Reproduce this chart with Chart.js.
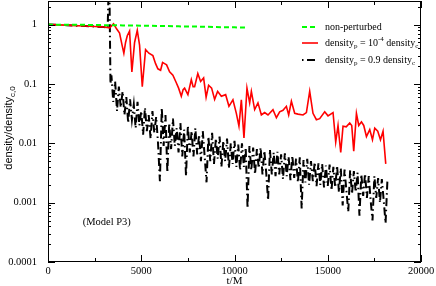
<!DOCTYPE html>
<html>
<head>
<meta charset="utf-8">
<script src="https://cdn.jsdelivr.net/npm/chart.js@4.4.0/dist/chart.umd.min.js"></script>
<style>
  html, body { margin: 0; padding: 0; background: #fff; }
</style>
</head>
<body>
<canvas id="densityChart" width="436" height="286"></canvas>
<script>
// ---- data ----
var xTickValues = [0, 5000, 10000, 15000, 20000];
var xTickLabels = ['0', '5000', '10000', '15000', '20000'];
var yTickValues = [0.0001, 0.001, 0.01, 0.1, 1];
var yTickLabels = ['0.0001', '0.001', '0.01', '0.1', '1'];

// non-perturbed
var greenT = [0, 1000, 2000, 3000, 4000, 5000, 6000, 7000, 8000, 9000, 10000, 10600];
var greenV = [1.0, 0.995, 0.99, 0.98, 0.97, 0.96, 0.95, 0.935, 0.925, 0.91, 0.9, 0.89];

// density_p = 1e-4 density_c
var redT = [0, 500, 1000, 1500, 2000, 2500, 3000, 3300, 3515, 3675, 3837, 3971, 4067, 4159, 4250, 4373,
  4497, 4642, 4787, 4910, 5055, 5232, 5409, 5624, 5768, 5892, 6037, 6144, 6251, 6359, 6520, 6697,
  6879, 7003, 7148, 7244, 7325, 7502, 7684, 7781, 7861, 8033, 8183, 8344, 8478, 8612, 8773, 8934,
  9095, 9294, 9525, 9702, 9916, 10099, 10238, 10367, 10507, 10668, 10813, 10904, 11081, 11258, 11440, 11617,
  11795, 12063, 12246, 12422, 12600, 12782, 12905, 13050, 13227, 13404, 13673, 13855, 14032, 14209, 14391, 14568,
  14837, 15014, 15283, 15427, 15551, 15696, 15819, 15991, 16178, 16286, 16393, 16538, 16662, 16806, 16930, 17075,
  17252, 17397, 17520, 17681, 17826, 17965, 18110];
var redV = [1.0, 0.99, 0.98, 0.96, 0.95, 0.93, 0.91, 0.88, 1.03, 0.85, 0.72, 0.45, 0.33, 0.5, 0.65, 0.78,
  0.16, 0.5, 0.8, 0.45, 0.09, 0.38, 0.33, 0.3, 0.22, 0.18, 0.17, 0.23, 0.22, 0.21, 0.16, 0.14,
  0.105, 0.085, 0.062, 0.08, 0.085, 0.066, 0.118, 0.09, 0.09, 0.15, 0.11, 0.126, 0.06, 0.095, 0.085, 0.055,
  0.075, 0.062, 0.066, 0.042, 0.054, 0.032, 0.0195, 0.054, 0.0123, 0.085, 0.048, 0.075, 0.037, 0.048, 0.03, 0.033,
  0.03, 0.037, 0.027, 0.034, 0.036, 0.042, 0.03, 0.051, 0.032, 0.031, 0.03, 0.033, 0.075, 0.032, 0.025, 0.026,
  0.034, 0.029, 0.033, 0.0105, 0.02, 0.007, 0.0195, 0.019, 0.022, 0.02, 0.0074, 0.032, 0.02, 0.023, 0.02, 0.013,
  0.017, 0.0115, 0.018, 0.016, 0.0115, 0.016, 0.0045];

// density_p = 0.9 density_c
var blackT = [0, 500, 1000, 1500, 2000, 2500, 3000, 3200, 3280, 3350,
  3400, 3500, 3600, 3700, 3800, 3900, 4000, 4100, 4200, 4300, 4400, 4500, 4600, 4700, 4800, 4900,
  5000, 5100, 5200, 5300, 5400, 5500, 5600, 5700, 5800, 5900, 6000, 6100, 6200, 6300, 6400, 6500,
  6600, 6700, 6800, 6900, 7000, 7100, 7200, 7300, 7400, 7500, 7600, 7700, 7800, 7900, 8000, 8100,
  8200, 8300, 8400, 8500, 8600, 8700, 8800, 8900, 9000, 9100, 9200, 9300, 9400, 9500, 9600, 9700,
  9800, 9900, 10000, 10100, 10200, 10300, 10400, 10500, 10600, 10700, 10800, 10900, 11000, 11100, 11200, 11300,
  11400, 11500, 11600, 11700, 11800, 11900, 12000, 12100, 12200, 12300, 12400, 12500, 12600, 12700, 12800, 12900,
  13000, 13100, 13200, 13300, 13400, 13500, 13600, 13700, 13800, 13900, 14000, 14100, 14200, 14300, 14400, 14500,
  14600, 14700, 14800, 14900, 15000, 15100, 15200, 15300, 15400, 15500, 15600, 15700, 15800, 15900, 16000, 16100,
  16200, 16300, 16400, 16500, 16600, 16700, 16800, 16900, 17000, 17100, 17200, 17300, 17400, 17500, 17600, 17700,
  17800, 17900, 18000, 18100, 18200];
var blackV = [1.0, 0.99, 0.98, 0.96, 0.95, 0.93, 0.91, 0.88, 10, 0.1,
  0.14, 0.05, 0.11, 0.035, 0.09, 0.04, 0.075, 0.03, 0.06, 0.022, 0.055, 0.025, 0.045, 0.018, 0.05, 0.02,
  0.035, 0.014, 0.04, 0.016, 0.03, 0.012, 0.035, 0.015, 0.028, 0.01, 0.0023, 0.04, 0.009, 0.03, 0.0032, 0.022,
  0.008, 0.026, 0.009, 0.018, 0.007, 0.022, 0.006, 0.017, 0.0028, 0.02, 0.007, 0.016, 0.006, 0.018, 0.0065, 0.014,
  0.005, 0.016, 0.006, 0.0022, 0.013, 0.005, 0.015, 0.0045, 0.012, 0.0055, 0.013, 0.004, 0.011, 0.005, 0.012, 0.0038,
  0.01, 0.0045, 0.011, 0.004, 0.0095, 0.0035, 0.01, 0.004, 0.0085, 0.0008, 0.009, 0.0035, 0.0085, 0.003, 0.008, 0.0038,
  0.0085, 0.003, 0.0075, 0.0032, 0.0011, 0.0078, 0.003, 0.007, 0.0028, 0.0072, 0.003, 0.0065, 0.0025, 0.0068, 0.0028, 0.006,
  0.0024, 0.0062, 0.0026, 0.0055, 0.0022, 0.0058, 0.0008, 0.0052, 0.0022, 0.0055, 0.002, 0.005, 0.0023, 0.0048, 0.0019, 0.0046,
  0.002, 0.0045, 0.0018, 0.0042, 0.0019, 0.0044, 0.0016, 0.004, 0.0018, 0.0042, 0.0015, 0.0038, 0.0009, 0.0036, 0.0016, 0.0007,
  0.0035, 0.0014, 0.0034, 0.0015, 0.0032, 0.0006, 0.003, 0.0013, 0.0031, 0.0012, 0.0028, 0.0011, 0.0005, 0.0028, 0.0012, 0.0026,
  0.001, 0.0025, 0.0011, 0.00045, 0.0024];

var modelLabel = '(Model P3)';
var modelLabelAt = [3150, 0.00047];

// ---- helpers ----
function toPoints(ts, vs) {
    var pts = [];
    for (var i = 0; i < ts.length; i++) pts.push({ x: ts[i], y: vs[i] });
    return pts;
}

var SERIF = '"Liberation Serif", "Times New Roman", serif';
var SANS = '"Liberation Sans", Arial, sans-serif';

var legendRows = [
    { color: '#00ff00', width: 2, dash: [5, 3], parts: [['non-perturbed', '']] },
    { color: '#ff0000', width: 1.6, dash: [], parts: [['density', ''], ['p', 'sub'], [' = 10', ''], ['-4', 'sup'], [' density', ''], ['c', 'sub']] },
    { color: '#000000', width: 2, dash: [1.5, 3.5, 8, 4], parts: [['density', ''], ['p', 'sub'], [' = 0.9 density', ''], ['c', 'sub']] }
];

function drawRich(ctx, parts, x, y, size, family) {
    for (var i = 0; i < parts.length; i++) {
        var txt = parts[i][0], kind = parts[i][1];
        var small = kind !== '';
        ctx.font = (small ? Math.round(size * 0.7) : size) + 'px ' + family;
        var dy = kind === 'sub' ? size * 0.3 : (kind === 'sup' ? -size * 0.4 : 0);
        ctx.fillText(txt, x, y + dy);
        x += ctx.measureText(txt).width;
    }
    return x;
}

// frame, inward ticks, legend, labels
var decorPlugin = {
    id: 'decor',
    afterDraw: function (chart) {
        var ctx = chart.ctx;
        var a = chart.chartArea;
        var xs = chart.scales.x, ys = chart.scales.y;
        ctx.save();
        ctx.strokeStyle = '#000';
        ctx.lineWidth = 1;
        ctx.setLineDash([]);
        ctx.strokeRect(Math.round(a.left) + 0.5, Math.round(a.top) + 0.5, Math.round(a.right - a.left) - 1, Math.round(a.bottom - a.top) - 1);

        ctx.beginPath();
        // x ticks (major 5000, minor 2500), bottom and top
        for (var v = 0; v <= 20000; v += 2500) {
            var px = Math.round(xs.getPixelForValue(v)) + 0.5;
            var len = v % 5000 === 0 ? 7 : 4;
            ctx.moveTo(px, a.bottom); ctx.lineTo(px, a.bottom - len);
            ctx.moveTo(px, a.top); ctx.lineTo(px, a.top + len);
        }
        // y ticks, log decades with minor 2..9, left and right
        for (var e = -4; e <= 0; e++) {
            for (var m = 1; m <= 9; m++) {
                var val = m * Math.pow(10, e);
                if (val > ys.max) break;
                var py = Math.round(ys.getPixelForValue(val)) + 0.5;
                var l = m === 1 ? 7 : 3;
                ctx.moveTo(a.left, py); ctx.lineTo(a.left + l, py);
                ctx.moveTo(a.right, py); ctx.lineTo(a.right - l, py);
            }
        }
        ctx.stroke();

        // legend
        var rowY = [27, 43, 60];
        ctx.textBaseline = 'middle';
        ctx.textAlign = 'left';
        ctx.fillStyle = '#000';
        for (var i = 0; i < legendRows.length; i++) {
            var r = legendRows[i];
            ctx.beginPath();
            ctx.strokeStyle = r.color;
            ctx.lineWidth = r.width;
            ctx.setLineDash(r.dash);
            ctx.moveTo(302, rowY[i]); ctx.lineTo(318, rowY[i]);
            ctx.stroke();
            drawRich(ctx, r.parts, 325, rowY[i], 10, SERIF);
        }
        ctx.setLineDash([]);

        // model label
        ctx.font = '10.5px ' + SERIF;
        ctx.textAlign = 'center';
        ctx.fillText(modelLabel, xs.getPixelForValue(modelLabelAt[0]), ys.getPixelForValue(modelLabelAt[1]));

        // y axis title with subscript
        ctx.translate(9, 128);
        ctx.rotate(-Math.PI / 2);
        ctx.font = '11px ' + SANS;
        var mainW = ctx.measureText('density/density').width;
        ctx.font = '8px ' + SANS;
        var subW = ctx.measureText('c,0').width;
        ctx.textAlign = 'left';
        drawRich(ctx, [['density/density', ''], ['c,0', 'sub']], -(mainW + subW) / 2, 0, 11, SANS);
        ctx.restore();
    }
};

var tickFont = { family: SERIF, size: 10.5 };

new Chart(document.getElementById('densityChart'), {
    type: 'line',
    data: {
        datasets: [
            {
                label: 'non-perturbed',
                data: toPoints(greenT, greenV),
                borderColor: '#00ff00',
                borderWidth: 2,
                borderDash: [5, 3],
                pointRadius: 0,
                tension: 0,
                fill: false
            },
            {
                label: 'density_p = 10^-4 density_c',
                data: toPoints(redT, redV),
                borderColor: '#ff0000',
                borderWidth: 1.6,
                pointRadius: 0,
                tension: 0,
                fill: false
            },
            {
                label: 'density_p = 0.9 density_c',
                data: toPoints(blackT, blackV),
                borderColor: '#000000',
                borderWidth: 2,
                borderDash: [8, 3.5, 1.5, 3.5],
                pointRadius: 0,
                tension: 0,
                fill: false
            }
        ]
    },
    options: {
        responsive: false,
        animation: false,
        devicePixelRatio: 1,
        layout: { padding: { left: 0, right: 15, top: 1, bottom: 0 } },
        plugins: {
            legend: { display: false },
            tooltip: { enabled: false }
        },
        scales: {
            x: {
                type: 'linear',
                min: 0,
                max: 20000,
                afterBuildTicks: function (s) { s.ticks = xTickValues.map(function (v) { return { value: v }; }); },
                afterFit: function (s) { s.height = 24; s.paddingLeft = 0; s.paddingRight = 0; },
                ticks: {
                    autoSkip: false,
                    maxRotation: 0,
                    padding: -5,
                    color: '#000',
                    font: tickFont,
                    callback: function (v, i) { return xTickLabels[i]; }
                },
                grid: { display: false },
                border: { display: false },
                title: {
                    display: true,
                    text: 't/M',
                    color: '#000',
                    font: { family: SERIF, size: 11 },
                    padding: { top: 0, bottom: -2 }
                }
            },
            y: {
                type: 'logarithmic',
                min: 0.0001,
                max: 2.5,
                afterBuildTicks: function (s) { s.ticks = yTickValues.map(function (v) { return { value: v }; }); },
                afterFit: function (s) { s.width = 48; s.paddingTop = 0; s.paddingBottom = 0; },
                ticks: {
                    autoSkip: false,
                    padding: 3,
                    color: '#000',
                    font: tickFont,
                    callback: function (v, i) { return yTickLabels[i]; }
                },
                grid: { display: false },
                border: { display: false }
            }
        }
    },
    plugins: [decorPlugin]
});
</script>
</body>
</html>
